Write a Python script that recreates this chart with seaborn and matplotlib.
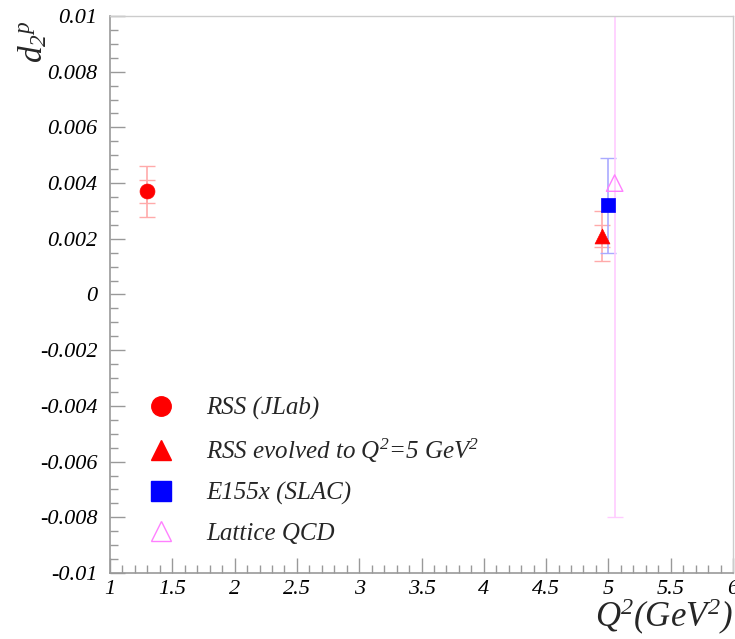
import matplotlib
matplotlib.use("Agg")
import matplotlib.pyplot as plt
import seaborn as sns
import pandas as pd
from matplotlib.lines import Line2D
from matplotlib.ticker import MultipleLocator, FixedLocator

# Data
labels = ["RSS (JLab)", "RSS evolved to Q$^{2}$=5 GeV$^{2}$", "E155x (SLAC)", "Lattice QCD"]
q2 = [1.30, 4.95, 5.00, 5.05]
d2p = [0.0037, 0.0021, 0.0032, 0.0040]
err_stat = [0.0004, 0.0004, 0.0017, 0.012]
err_tot = [0.0009, 0.0009, 0.0017, 0.012]

x_ticks = [1, 1.5, 2, 2.5, 3, 3.5, 4, 4.5, 5, 5.5, 6]
x_ticklabels = ["1", "1.5", "2", "2.5", "3", "3.5", "4", "4.5", "5", "5.5", "6"]
y_ticks = [-0.01, -0.008, -0.006, -0.004, -0.002, 0, 0.002, 0.004, 0.006, 0.008, 0.01]
y_ticklabels = ["-0.01", "-0.008", "-0.006", "-0.004", "-0.002", "0",
                "0.002", "0.004", "0.006", "0.008", "0.01"]

sns.set_style("white")
plt.rcParams["font.family"] = ["Liberation Serif", "DejaVu Serif"]
plt.rcParams["font.style"] = "italic"
plt.rcParams["mathtext.fontset"] = "custom"
plt.rcParams["mathtext.rm"] = "Liberation Serif:italic"
plt.rcParams["mathtext.it"] = "Liberation Serif:italic"
plt.rcParams["mathtext.default"] = "rm"

colors = ["#ff0000", "#ff0000", "#0000ff", "#ff80ff"]
errcolors = ["#ffaaaa", "#ffaaaa", "#aaaaff", "#ffccff"]
markers = ["o", "^", "s", "^"]

df = pd.DataFrame({"label": labels, "q2": q2, "d2p": d2p,
                   "es": err_stat, "et": err_tot})

fig = plt.figure(figsize=(7.35, 6.39), dpi=100)
ax = fig.add_axes([0.1497, 0.1033, 0.8476, 0.8717])

# error bars
for i in range(len(df)):
    ax.errorbar(df.q2[i], df.d2p[i], yerr=df.et[i], fmt="none",
                ecolor=errcolors[i], elinewidth=1.2, capsize=6, capthick=1.0, zorder=1)
    if df.es[i] != df.et[i]:
        ax.errorbar(df.q2[i], df.d2p[i], yerr=df.es[i], fmt="none",
                    ecolor=errcolors[i], elinewidth=1.2, capsize=6, capthick=1.0, zorder=1)

# markers
for i in range(len(df)):
    sub = df.iloc[[i]]
    if i == 3:
        sns.scatterplot(data=sub, x="q2", y="d2p", marker=markers[i], s=140,
                        facecolors="none", edgecolor=colors[i], linewidth=1.0,
                        ax=ax, legend=False, zorder=3)
    else:
        sns.scatterplot(data=sub, x="q2", y="d2p", marker=markers[i], s=115,
                        color=colors[i], edgecolor=colors[i], linewidth=0.5,
                        ax=ax, legend=False, zorder=3)

ax.set_xlim(1, 6)
ax.set_ylim(-0.01, 0.01)
ax.xaxis.set_major_locator(FixedLocator(x_ticks))
ax.set_xticklabels(x_ticklabels)
ax.yaxis.set_major_locator(FixedLocator(y_ticks))
ax.set_yticklabels(y_ticklabels)
ax.xaxis.set_minor_locator(MultipleLocator(0.1))
ax.yaxis.set_minor_locator(MultipleLocator(0.0005))
ax.tick_params(axis="both", which="both", direction="in", colors="#999999",
               labelcolor="black", labelsize=16, bottom=True, left=True,
               top=False, right=False)
ax.tick_params(axis="both", which="major", length=11, width=1)
ax.tick_params(axis="both", which="minor", length=6, width=1)
ax.tick_params(axis="x", pad=5)
ax.tick_params(axis="y", pad=9)
for s in ["left", "bottom"]:
    ax.spines[s].set_color("#999999")
    ax.spines[s].set_linewidth(1.2)
for s in ["top", "right"]:
    ax.spines[s].set_color("#cccccc")
    ax.spines[s].set_linewidth(1.0)

ax.set_xlabel("")
ax.set_ylabel("")
fig.text(0.997, 0.034, "Q$^{2}$(GeV$^{2}$)", ha="right", va="center", fontsize=25)
fig.text(0.045, 0.935, "d$_{2}$$^{p}$", ha="center", va="center", fontsize=24, rotation=90)

handles = []
for i in range(len(df)):
    if i == 3:
        h = Line2D([], [], linestyle="none", marker=markers[i], markersize=14,
                   markerfacecolor="none", markeredgecolor=colors[i], markeredgewidth=1.0)
    else:
        h = Line2D([], [], linestyle="none", marker=markers[i], markersize=14,
                   markerfacecolor=colors[i], markeredgecolor=colors[i])
    handles.append(h)
leg = ax.legend(handles, labels, loc="upper left", bbox_to_anchor=(0.172, 0.395),
                bbox_transform=fig.transFigure, frameon=False, fontsize=18,
                handletextpad=0.8, labelspacing=0.68, borderaxespad=0)

fig.savefig("out.png", dpi=100)
